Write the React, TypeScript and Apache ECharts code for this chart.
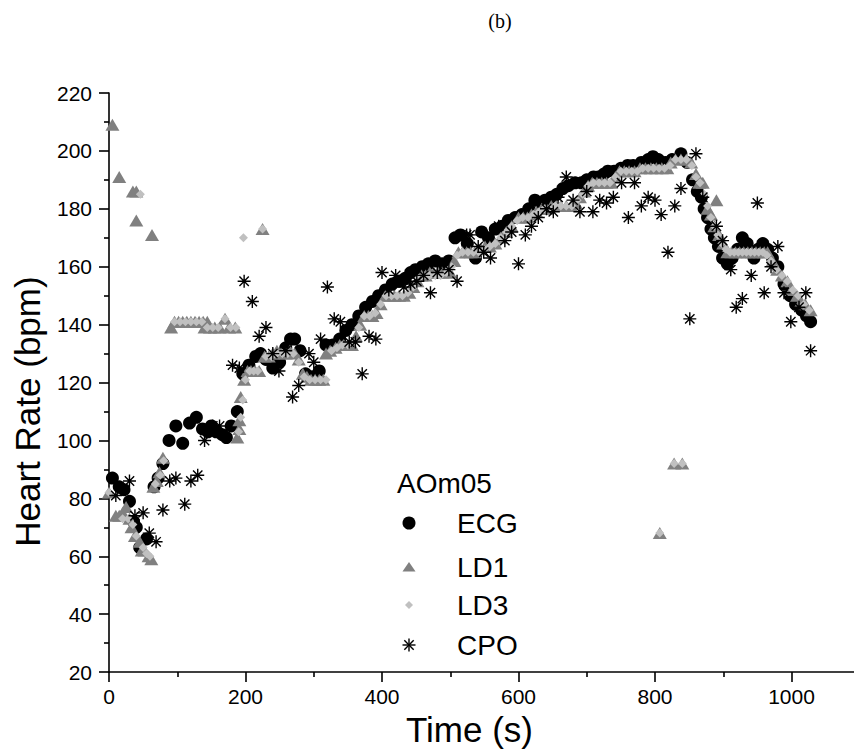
import React, { useEffect, useRef } from 'react';
import * as echarts from 'echarts';

const xTickLabels = [0, 200, 400, 600, 800, 1000];
const legendTitle = 'AOm05';
const seriesNames = ['ECG', 'LD1', 'LD3', 'CPO'];

const ecg: [number, number][] = [
  [5, 87], [15, 84], [22, 83], [30, 79], [36, 72], [40, 70], [45, 63], [55, 66], [66, 84], [72, 87], [79, 92],
  [88, 100], [98, 105], [108, 99], [118, 106], [128, 108], [137, 104], [145, 103], [150, 105], [157, 103],
  [166, 102], [172, 101], [179, 105], [188, 110], [196, 123], [205, 126], [215, 129], [222, 130], [230, 128],
  [240, 125], [250, 127], [259, 132], [266, 135], [272, 135], [280, 131], [288, 123], [298, 122], [308, 124],
  [318, 133], [328, 133], [338, 135], [347, 138], [356, 140], [366, 143], [376, 146], [386, 148], [395, 150],
  [405, 152], [415, 154], [425, 155], [434, 156], [442, 158], [449, 159], [459, 160], [468, 161], [478, 162],
  [488, 161], [498, 162], [507, 170], [515, 171], [525, 168], [537, 163], [546, 172], [556, 170], [566, 173],
  [576, 174], [585, 176], [595, 177], [605, 178], [615, 180], [624, 183], [633, 182], [639, 183], [648, 184],
  [656, 185], [665, 187], [673, 188], [683, 189], [692, 189], [700, 190], [710, 191], [717, 191], [725, 192],
  [731, 193], [740, 193], [750, 194], [760, 195], [768, 195], [780, 196], [790, 197], [797, 198], [805, 197],
  [815, 196], [825, 197], [838, 199], [847, 196], [855, 190], [862, 186], [868, 184], [872, 180], [877, 177],
  [882, 173], [887, 170], [893, 167], [899, 163], [906, 161], [913, 163], [921, 166], [928, 170], [935, 168],
  [945, 163], [951, 166], [958, 168], [965, 166], [972, 163], [980, 160], [989, 154], [998, 150], [1006, 147],
  [1015, 145], [1022, 143], [1028, 141]
];

const ld1: [number, number][] = [
  [0, 82], [5, 209], [15, 191], [35, 186], [40, 186], [40, 176], [63, 171],
  [10, 74], [15, 74], [20, 75], [25, 77], [30, 73], [33, 70], [38, 67], [45, 65], [48, 62], [52, 62], [58, 60], [62, 59],
  [65, 84], [70, 86], [74, 89], [79, 94],
  [91, 139], [96, 141], [102, 141], [108, 141], [114, 141], [120, 141], [126, 141], [132, 141], [138, 141], [144, 141],
  [140, 139], [148, 139], [155, 139], [162, 139], [170, 142], [176, 139], [185, 139],
  [188, 101], [191, 104], [191, 107], [193, 115], [198, 121], [203, 124], [208, 124], [214, 124], [220, 124], [225, 173],
  [228, 129], [234, 129], [240, 130], [246, 131], [252, 130], [259, 130], [265, 131], [272, 130], [278, 128], [284, 123],
  [290, 122], [296, 121], [302, 121], [308, 121], [314, 121], [318, 130], [324, 131], [332, 132], [338, 133], [344, 133],
  [350, 133], [356, 133], [362, 136], [368, 140], [374, 143], [380, 143], [386, 143], [392, 144], [398, 147], [405, 150],
  [412, 150], [418, 150], [425, 150], [432, 150], [440, 151], [446, 153], [452, 155], [458, 157], [464, 157], [470, 158],
  [476, 158], [482, 158], [488, 158], [494, 158], [500, 158], [506, 162], [512, 165], [518, 165], [524, 165], [530, 165],
  [536, 165], [545, 166], [551, 167], [558, 167], [566, 168], [574, 170], [582, 172], [590, 174], [600, 177], [607, 177],
  [613, 177], [619, 178], [626, 179], [634, 180], [641, 180], [648, 181], [655, 181], [662, 181], [670, 181], [677, 181],
  [684, 182], [690, 184], [696, 186], [702, 188], [708, 189], [715, 189], [722, 189], [729, 189], [736, 189], [742, 191],
  [748, 193], [755, 193], [762, 193], [770, 193], [778, 194], [786, 194], [794, 194], [802, 194], [807, 68], [810, 194],
  [818, 194], [823, 196], [828, 92], [830, 197], [840, 92], [838, 197], [846, 197], [853, 196], [860, 192],
  [865, 189], [870, 189], [877, 180], [882, 178], [887, 174], [890, 183], [894, 171], [900, 168], [906, 165], [912, 165],
  [918, 165], [924, 165], [930, 165], [936, 165], [942, 165], [948, 165], [954, 165], [960, 165], [965, 165], [972, 162],
  [979, 159], [986, 157], [994, 155], [1000, 152], [1008, 150], [1014, 148], [1020, 147], [1028, 145]
];

const ld3: [number, number][] = [
  [0, 82], [20, 73], [28, 73], [35, 71], [40, 67], [46, 185], [50, 63], [55, 61], [60, 60], [68, 85], [75, 88], [80, 93],
  [96, 141], [104, 141], [112, 141], [120, 141], [128, 141], [136, 141], [144, 139], [152, 139], [160, 139], [170, 142],
  [178, 139], [186, 139], [190, 103], [193, 108], [196, 114], [197, 170], [200, 121], [206, 124], [212, 124], [218, 124],
  [225, 173], [230, 129], [238, 129], [246, 130], [254, 130], [262, 130], [270, 130], [278, 127], [286, 122], [294, 121],
  [302, 121], [310, 121], [318, 121], [326, 131], [334, 132], [342, 133], [350, 133], [358, 134], [366, 139], [374, 143],
  [382, 143], [390, 144], [398, 147], [406, 150], [414, 150], [422, 150], [430, 150], [438, 151], [446, 153], [454, 156],
  [462, 157], [470, 157], [478, 157], [486, 157], [494, 158], [502, 160], [510, 164], [518, 165], [526, 165], [534, 165],
  [542, 165], [550, 166], [558, 167], [566, 168], [574, 170], [582, 172], [590, 174], [598, 176], [606, 177], [614, 177],
  [622, 178], [630, 179], [638, 180], [646, 180], [654, 181], [662, 181], [670, 181], [678, 181], [686, 183], [694, 185],
  [702, 188], [710, 189], [718, 189], [726, 189], [734, 189], [742, 191], [750, 193], [758, 193], [766, 193], [774, 193],
  [782, 194], [790, 194], [798, 194], [806, 194], [807, 68], [814, 194], [822, 195], [828, 92], [830, 197], [838, 197],
  [840, 92], [846, 197], [854, 195], [860, 191], [866, 189], [872, 185], [877, 181], [882, 177], [887, 174], [892, 171],
  [898, 168], [904, 166], [910, 165], [916, 165], [922, 165], [928, 165], [934, 165], [940, 165], [946, 165], [952, 165],
  [958, 165], [964, 164], [970, 162], [978, 159], [986, 157], [994, 155], [1002, 152], [1010, 150], [1018, 147], [1026, 145]
];

const cpo: [number, number][] = [
  [10, 81], [30, 86], [38, 74], [50, 75], [59, 68], [69, 65], [79, 76], [89, 86], [98, 87], [111, 78], [120, 86],
  [130, 88], [140, 100], [152, 105], [162, 105], [181, 126], [191, 125], [198, 155], [210, 148], [220, 136], [230, 139],
  [240, 130], [249, 124], [259, 131], [269, 115], [278, 119], [293, 130], [300, 127], [310, 135], [320, 153], [330, 142],
  [339, 141], [352, 134], [361, 134], [371, 123], [381, 136], [391, 135], [400, 158], [410, 152], [420, 157], [432, 153],
  [442, 154], [451, 155], [461, 157], [471, 151], [481, 158], [498, 159], [510, 155], [524, 171], [529, 171], [541, 167],
  [549, 165], [559, 163], [571, 174], [580, 169], [590, 172], [600, 161], [610, 171], [619, 174], [629, 177], [641, 180],
  [651, 179], [658, 184], [670, 191], [680, 183], [690, 179], [700, 186], [709, 179], [719, 183], [729, 182], [739, 184],
  [751, 189], [761, 177], [770, 189], [780, 181], [790, 184], [800, 183], [809, 178], [819, 165], [829, 181], [838, 187],
  [851, 142], [860, 199], [870, 184], [890, 174], [899, 169], [911, 159], [919, 146], [928, 149], [941, 157], [950, 182],
  [960, 151], [970, 160], [980, 167], [989, 151], [999, 141], [1011, 146], [1021, 151], [1028, 131]
];

const FONT = '"Liberation Sans", Arial, sans-serif';
const STAR = 'path://M0,-1L0,1M-1,0L1,0M-0.72,-0.72L0.72,0.72M-0.72,0.72L0.72,-0.72';

export default function App() {
  const ref = useRef<HTMLDivElement>(null);
  useEffect(() => {
    if (!ref.current) return;
    const chart = echarts.init(ref.current, null, { renderer: 'svg' });
    const lx = 409;
    const tx = 457;
    const rows = [523, 567, 605, 645];
    const star = (cx: number, cy: number, r: number) => {
      const d = r * 0.72;
      return [
        [cx, cy - r, cx, cy + r], [cx - r, cy, cx + r, cy],
        [cx - d, cy - d, cx + d, cy + d], [cx - d, cy + d, cx + d, cy - d]
      ].map(([x1, y1, x2, y2]) => ({
        type: 'line', shape: { x1, y1, x2, y2 }, style: { stroke: '#000', lineWidth: 1.4 }, silent: true
      }));
    };
    chart.setOption({
      animation: false,
      grid: { left: 109, right: 0, top: 93, bottom: 76 },
      xAxis: {
        type: 'value', min: 0, max: 1200, interval: 200,
        axisLine: { show: true, onZero: false, lineStyle: { color: '#000', width: 1.6 } },
        axisTick: { show: true, inside: false, length: 10, lineStyle: { color: '#000', width: 1.6 } },
        minorTick: { show: true, splitNumber: 2, length: 5, lineStyle: { color: '#000', width: 1.6 } },
        splitLine: { show: false },
        axisLabel: {
          margin: 14, fontSize: 21, color: '#000', fontFamily: FONT,
          formatter: (v: number) => (xTickLabels.includes(v) ? String(v) : '')
        },
        name: 'Time (s)', nameLocation: 'middle', nameGap: 38,
        nameTextStyle: { fontSize: 35, color: '#000', fontFamily: FONT, padding: [0, 98, 0, 0] }
      },
      yAxis: {
        type: 'value', min: 20, max: 220, interval: 20,
        axisLine: { show: true, onZero: false, lineStyle: { color: '#000', width: 1.6 } },
        axisTick: { show: true, inside: false, length: 10, lineStyle: { color: '#000', width: 1.6 } },
        minorTick: { show: true, splitNumber: 2, length: 5, lineStyle: { color: '#000', width: 1.6 } },
        splitLine: { show: false },
        axisLabel: { margin: 17, fontSize: 21, color: '#000', fontFamily: FONT },
        name: 'Heart Rate (bpm)', nameLocation: 'middle', nameGap: 64,
        nameTextStyle: { fontSize: 35, color: '#000', fontFamily: FONT, padding: [0, 58, 0, 0] }
      },
      series: [
        { name: seriesNames[0], type: 'scatter', data: ecg, symbol: 'circle', symbolSize: 13, itemStyle: { color: '#000', opacity: 1 } },
        { name: seriesNames[1], type: 'scatter', data: ld1, symbol: 'triangle', symbolSize: [14, 12], itemStyle: { color: '#808080', opacity: 1 } },
        { name: seriesNames[2], type: 'scatter', data: ld3, symbol: 'diamond', symbolSize: 9, itemStyle: { color: '#c0c0c0', opacity: 1 } },
        {
          name: seriesNames[3], type: 'scatter', data: cpo, symbol: STAR, symbolSize: 13,
          itemStyle: { color: 'rgba(0,0,0,0)', borderColor: '#000', borderWidth: 1.4, opacity: 1 }
        }
      ],
      graphic: [
        { type: 'text', silent: true, style: { x: 500, y: 21, text: '(b)', fill: '#000', font: '20px "Liberation Serif", serif', align: 'center', verticalAlign: 'middle' } },
        { type: 'text', silent: true, style: { x: 397, y: 483, text: legendTitle, fill: '#000', font: `28px ${FONT}`, align: 'left', verticalAlign: 'middle' } },
        { type: 'circle', silent: true, shape: { cx: lx, cy: rows[0], r: 6.5 }, style: { fill: '#000' } },
        { type: 'polygon', silent: true, shape: { points: [[lx - 6.5, rows[1] + 4.5], [lx + 6.5, rows[1] + 4.5], [lx, rows[1] - 5]] }, style: { fill: '#808080' } },
        { type: 'polygon', silent: true, shape: { points: [[lx, rows[2] - 4], [lx + 4, rows[2]], [lx, rows[2] + 4], [lx - 4, rows[2]]] }, style: { fill: '#c0c0c0' } },
        ...star(lx, rows[3], 6.5),
        ...seriesNames.map((n, i) => ({
          type: 'text', silent: true,
          style: { x: tx, y: rows[i], text: n, fill: '#000', font: `28px ${FONT}`, align: 'left', verticalAlign: 'middle' }
        }))
      ]
    });
    return () => chart.dispose();
  }, []);
  return (
    <div style={{ position: 'fixed', left: 0, top: 0, width: 854, height: 752, overflow: 'hidden', background: '#fff' }}>
      <div ref={ref} style={{ position: 'absolute', left: 0, top: 0, width: 931, height: 752 }} />
    </div>
  );
}
